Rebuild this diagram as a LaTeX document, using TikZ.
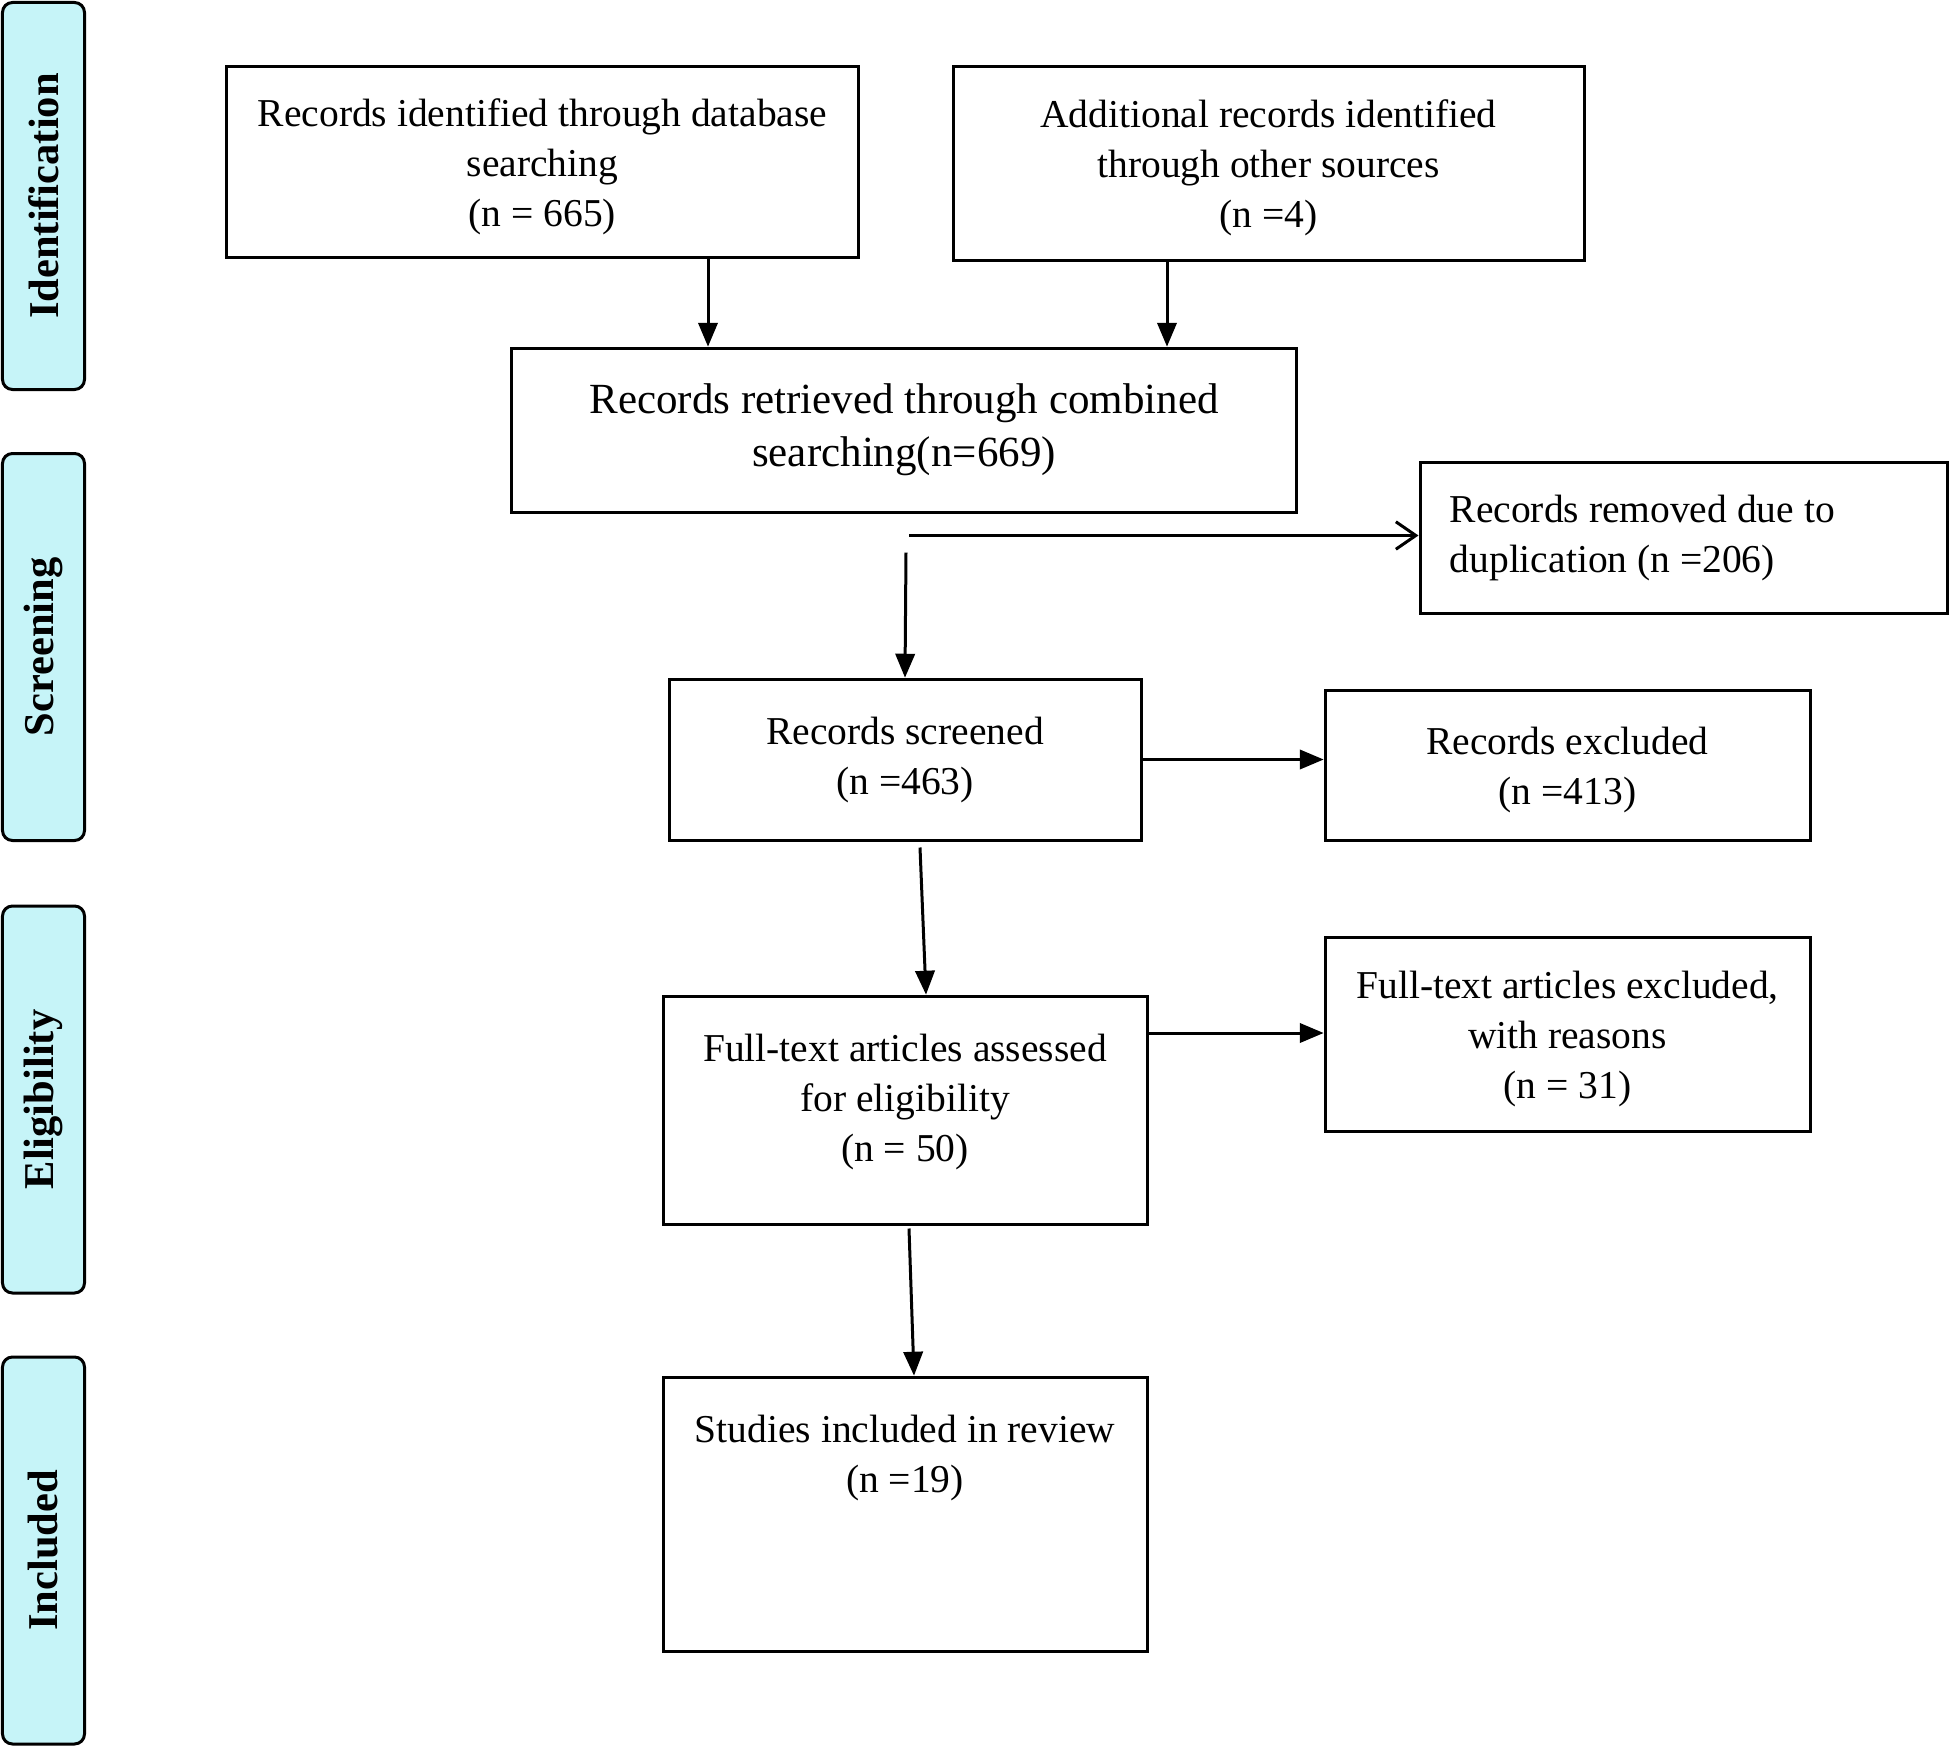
\documentclass[tikz,border=0pt]{standalone}
\usepackage{fontspec}
\setmainfont{Liberation Serif}
\usepackage{xcolor}
\usetikzlibrary{shapes,arrows,arrows.meta}
\definecolor{phasecyan}{HTML}{C6F4F8}

\begin{document}
\begin{tikzpicture}[x=0.4pt,y=-0.4pt,
    box/.style={draw,line width=1.2pt,fill=white,align=center,
        font=\fontsize{15.8}{20}\selectfont},
    phase/.style={draw,line width=1.2pt,fill=phasecyan,rounded corners=4pt,
        minimum width=32.8pt,minimum height=154.8pt,
        font=\fontsize{17}{20}\selectfont\bfseries},
    flow/.style={line width=1.2pt,-triangle 45}]
                % Fix the frame
                \useasboundingbox (0,0) rectangle (1949,1747);

                % Phase bars
                \node[phase] (ident) at (43.5,196) {\rotatebox{90}{Identification}};
                \node[phase] (screen) at (43.5,647) {\rotatebox{90}{Screening}};
                \node[phase] (elig) at (43.5,1099.5) {\rotatebox{90}{Eligibility}};
                \node[phase] (incphase) at (43.5,1550.5) {\rotatebox{90}{Included}};

                % Identification boxes
                \node[box,minimum width=252.4pt,minimum height=76.4pt] (dbrec) at (542.5,161.5)
                    {\rule{0pt}{15pt}Records identified through database\\searching\\(n = 665)};
                \node[box,minimum width=252.4pt,minimum height=77.6pt] (otherrec) at (1268.5,163)
                    {\rule{0pt}{15pt}Additional records identified\\through other sources\\(n =4)};
                \node[box,minimum width=313.6pt,minimum height=65.6pt,
                    font=\fontsize{17.2}{21.2}\selectfont] (combined) at (904,430)
                    {Records retrieved through combined\\searching(n=669)};

                % Screening boxes
                \node[box,align=flush left,text width=187pt,minimum width=210.8pt,minimum height=60.4pt,
                    inner xsep=11.2pt] (dupl) at (1683.5,537.5)
                    {Records removed due to\\duplication (n =206)};
                \node[box,minimum width=188.8pt,minimum height=64.4pt] (screened) at (905,759.5)
                    {Records screened\\(n =463)};
                \node[box,minimum width=194pt,minimum height=60pt] (excl) at (1567.5,765)
                    {\rule{0pt}{15pt}Records excluded\\(n =413)};

                % Eligibility boxes
                \node[box,minimum width=193.6pt,minimum height=91.2pt] (fulltext) at (905,1110)
                    {Full-text articles assessed\\for eligibility\\(n = 50)\rule[-10pt]{0pt}{10pt}};
                \node[box,minimum width=194pt,minimum height=77.6pt] (ftexcl) at (1567.5,1034)
                    {\rule{0pt}{15pt}Full-text articles excluded,\\with reasons\\(n = 31)};

                % Included box
                \node[box,minimum width=193.6pt,minimum height=109.6pt] (incl) at (905,1514) {};
                \node[box,draw=none,fill=none,anchor=north] (incltext) at ([yshift=-12pt]incl.north)
                    {Studies included in review\\(n =19)};

                % Arrows
                \draw[flow] ([xshift=66.2pt]dbrec.south) -- ([xshift=66.2pt]dbrec.south |- combined.north);
                \draw[flow] ([xshift=-40.6pt]otherrec.south) -- ([xshift=-40.6pt]otherrec.south |- combined.north);
                \coordinate (dupsplit) at ([xshift=2pt,yshift=-8.8pt]combined.south);
                \draw[line width=1.2pt,-{Straight Barb[length=8pt,width=11pt]}] (dupsplit) -- (dupsplit -| dupl.west);
                \draw[flow] ([xshift=0.8pt,yshift=-15.6pt]combined.south) -- (screened.north);
                \draw[flow] (screened.east) -- (screened.east -| excl.west);
                \draw[flow] ([xshift=6pt,yshift=-2.4pt]screened.south) -- ([xshift=8.4pt]fulltext.north);
                \draw[flow] ([yshift=30.8pt]fulltext.east) -- ([yshift=30.8pt]fulltext.east -| ftexcl.west);
                \draw[flow] ([xshift=1.6pt,yshift=-1.2pt]fulltext.south) -- ([xshift=3.6pt]incl.north);
\end{tikzpicture}
\end{document}
